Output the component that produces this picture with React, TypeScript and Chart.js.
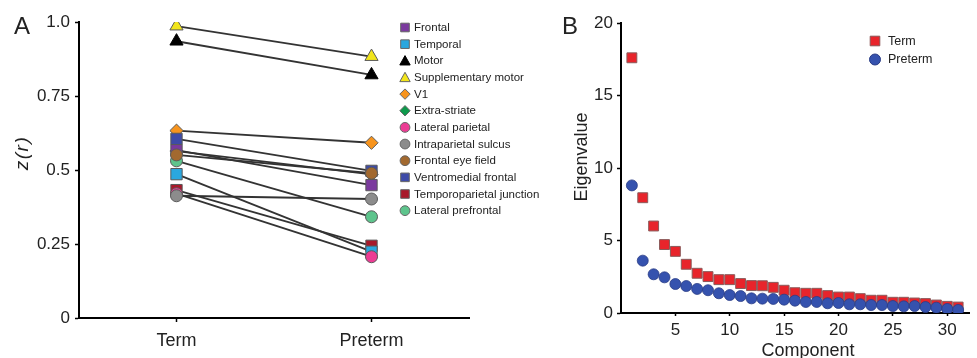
import React, { useEffect, useRef } from 'react';
import { Chart, registerables } from 'chart.js';

Chart.register(...registerables);

const FONT = "'Liberation Sans', Arial, Helvetica, sans-serif";

// ---------- Panel A data ----------
const groups = ['Term', 'Preterm'];
const regions = [
  'Frontal',
  'Temporal',
  'Motor',
  'Supplementary motor',
  'V1',
  'Extra-striate',
  'Lateral parietal',
  'Intraparietal sulcus',
  'Frontal eye field',
  'Ventromedial frontal',
  'Temporoparietal junction',
  'Lateral prefrontal',
];
const termZ = [0.567, 0.486, 0.935, 0.986, 0.633, 0.564, 0.42, 0.413, 0.551, 0.605, 0.432, 0.531];
const pretermZ = [0.449, 0.224, 0.821, 0.883, 0.592, 0.485, 0.207, 0.402, 0.489, 0.497, 0.244, 0.342];
const regionColors = [
  '#7B3A9E',
  '#2AA7DF',
  '#000000',
  '#F2E51B',
  '#F7941D',
  '#0E9A4C',
  '#EC3C94',
  '#8C8C8C',
  '#A2692F',
  '#3E4BA8',
  '#A8192A',
  '#5DC48C',
];
const regionShapes = [
  'rect',
  'rect',
  'triangle',
  'triangle',
  'rectRot',
  'rectRot',
  'circle',
  'circle',
  'circle',
  'rect',
  'rect',
  'circle',
];
const zTicks = [0, 0.25, 0.5, 0.75, 1.0];
const zTickLabels = ['0', '0.25', '0.5', '0.75', '1.0'];

// ---------- Panel B data ----------
const components = [1, 2, 3, 4, 5, 6, 7, 8, 9, 10, 11, 12, 13, 14, 15, 16, 17, 18, 19, 20, 21, 22, 23, 24, 25, 26, 27, 28, 29, 30, 31];
const termEigen = [17.6, 7.95, 6.0, 4.72, 4.25, 3.36, 2.74, 2.51, 2.3, 2.3, 2.03, 1.89, 1.88, 1.77, 1.57, 1.4, 1.36, 1.36, 1.2, 1.1, 1.1, 0.99, 0.88, 0.88, 0.74, 0.74, 0.69, 0.65, 0.55, 0.46, 0.41];
const pretermEigen = [8.8, 3.61, 2.67, 2.46, 2.0, 1.86, 1.66, 1.57, 1.36, 1.24, 1.17, 1.01, 0.99, 0.97, 0.92, 0.85, 0.76, 0.76, 0.67, 0.69, 0.6, 0.6, 0.55, 0.55, 0.48, 0.46, 0.48, 0.41, 0.37, 0.28, 0.21];
const eigenTicks = [0, 5, 10, 15, 20];
const componentTicks = [5, 10, 15, 20, 25, 30];
const eigenSeries = ['Term', 'Preterm'];
const eigenColors = ['#E8242B', '#3552AE'];

function pointRadiusFor(shape: string): number {
  if (shape === 'rect') return 8;
  if (shape === 'triangle') return 7.6;
  if (shape === 'rectRot') return 6.6;
  return 6;
}

function drawMarker(
  ctx: CanvasRenderingContext2D,
  shape: string,
  x: number,
  y: number,
  s: number,
  fill: string,
  stroke: string,
) {
  ctx.beginPath();
  if (shape === 'rect') {
    ctx.rect(x - s, y - s, 2 * s, 2 * s);
  } else if (shape === 'circle') {
    ctx.arc(x, y, s, 0, Math.PI * 2);
  } else if (shape === 'triangle') {
    const h = s * 1.8;
    ctx.moveTo(x, y - h / 2 - 0.5);
    ctx.lineTo(x + s, y + h / 2 - 0.5);
    ctx.lineTo(x - s, y + h / 2 - 0.5);
    ctx.closePath();
  } else {
    ctx.moveTo(x, y - s);
    ctx.lineTo(x + s, y);
    ctx.lineTo(x, y + s);
    ctx.lineTo(x - s, y);
    ctx.closePath();
  }
  ctx.fillStyle = fill;
  ctx.fill();
  ctx.lineWidth = 1;
  ctx.strokeStyle = stroke;
  ctx.stroke();
}

function legendSize(shape: string): number {
  if (shape === 'rect') return 4.3;
  if (shape === 'triangle') return 5.2;
  if (shape === 'rectRot') return 5.2;
  return 4.9;
}

const legendAPlugin = {
  id: 'legendA',
  afterDraw(chart: any) {
    const ctx: CanvasRenderingContext2D = chart.ctx;
    ctx.save();
    regions.forEach((name, i) => {
      const y = 27.5 + i * 16.65;
      const shape = regionShapes[i];
      drawMarker(ctx, shape, 405, y, legendSize(shape), regionColors[i], i === 2 ? '#000' : '#666');
      ctx.fillStyle = '#222';
      ctx.font = `11.5px ${FONT}`;
      ctx.textBaseline = 'middle';
      ctx.textAlign = 'left';
      ctx.fillText(name, 414, y + 0.5);
    });
    ctx.restore();
  },
};

const legendBPlugin = {
  id: 'legendB',
  afterDraw(chart: any) {
    const ctx: CanvasRenderingContext2D = chart.ctx;
    ctx.save();
    eigenSeries.forEach((name, i) => {
      const y = 41 + i * 18.5;
      drawMarker(ctx, i === 0 ? 'rect' : 'circle', 327, y, i === 0 ? 4.8 : 5.5, eigenColors[i], i === 0 ? '#8a5555' : '#2a3c85');
      ctx.fillStyle = '#222';
      ctx.font = `12.5px ${FONT}`;
      ctx.textBaseline = 'middle';
      ctx.textAlign = 'left';
      ctx.fillText(name, 340, y + 0.5);
    });
    ctx.restore();
  },
};

function PanelA() {
  const ref = useRef<HTMLCanvasElement>(null);
  useEffect(() => {
    if (!ref.current) return;
    const chart = new Chart(ref.current, {
      type: 'line',
      data: {
        labels: groups,
        datasets: regions.map((name, i) => ({
          label: name,
          data: [termZ[i], pretermZ[i]],
          borderColor: '#333333',
          borderWidth: 1.8,
          pointStyle: regionShapes[i] as any,
          pointRadius: pointRadiusFor(regionShapes[i]),
          pointHoverRadius: pointRadiusFor(regionShapes[i]),
          pointBackgroundColor: regionColors[i],
          pointBorderColor: i === 2 ? '#000' : '#5a5a5a',
          pointBorderWidth: 1,
          fill: false,
          tension: 0,
          order: [5, 4, 6, 7, 8, 9, 1, 0, 2, 3, 10, 11][i],
        })),
      },
      options: {
        responsive: false,
        animation: false,
        events: [],
        layout: { padding: { left: 0, right: 76, top: 22, bottom: 0 } },
        plugins: { legend: { display: false }, tooltip: { enabled: false } },
        scales: {
          x: {
            type: 'category',
            offset: true,
            afterFit: (s: any) => {
              s.height = 40;
            },
            grid: { drawOnChartArea: false, tickLength: 4, tickColor: '#000', tickWidth: 1.5 },
            border: { color: '#000', width: 2 },
            ticks: { color: '#222', font: { family: FONT, size: 18 }, padding: 8 },
          },
          y: {
            type: 'linear',
            min: 0,
            max: 1,
            afterFit: (s: any) => {
              s.width = 79;
            },
            afterBuildTicks: (s: any) => {
              s.ticks = zTicks.map((v) => ({ value: v }));
            },
            grid: { drawOnChartArea: false, tickLength: 4, tickColor: '#000', tickWidth: 1.5 },
            border: { color: '#000', width: 2 },
            ticks: {
              color: '#222',
              font: { family: FONT, size: 17 },
              padding: 5,
              callback: (v: any) => {
                const i = zTicks.indexOf(Number(v));
                return i >= 0 ? zTickLabels[i] : '';
              },
            },
          },
        },
      },
      plugins: [legendAPlugin],
    });
    return () => chart.destroy();
  }, []);
  return <canvas ref={ref} width={545} height={358} style={{ width: 545, height: 358, display: 'block' }} />;
}

function PanelB() {
  const ref = useRef<HTMLCanvasElement>(null);
  useEffect(() => {
    if (!ref.current) return;
    const chart = new Chart(ref.current, {
      type: 'scatter',
      data: {
        datasets: [
          {
            label: eigenSeries[0],
            data: components.map((c, i) => ({ x: c, y: termEigen[i] })),
            pointStyle: 'rect',
            pointRadius: 7,
            pointHoverRadius: 7,
            pointBackgroundColor: eigenColors[0],
            pointBorderColor: '#8a5a5a',
            pointBorderWidth: 1,
            order: 1,
          },
          {
            label: eigenSeries[1],
            data: components.map((c, i) => ({ x: c, y: pretermEigen[i] })),
            pointStyle: 'circle',
            pointRadius: 5.5,
            pointHoverRadius: 5.5,
            pointBackgroundColor: eigenColors[1],
            pointBorderColor: '#2a3c85',
            pointBorderWidth: 0.8,
            order: 0,
          },
        ],
      },
      options: {
        responsive: false,
        animation: false,
        events: [],
        layout: { padding: { left: 0, right: 4, top: 23, bottom: 0 } },
        plugins: { legend: { display: false }, tooltip: { enabled: false } },
        scales: {
          x: {
            type: 'linear',
            min: 0,
            max: 32,
            afterFit: (s: any) => {
              s.height = 45;
            },
            afterBuildTicks: (s: any) => {
              s.ticks = componentTicks.map((v) => ({ value: v }));
            },
            grid: { drawOnChartArea: false, tickLength: 3, tickColor: '#000', tickWidth: 1.5 },
            border: { color: '#000', width: 2 },
            ticks: { color: '#222', font: { family: FONT, size: 17 }, padding: 4 },
          },
          y: {
            type: 'linear',
            min: 0,
            max: 20,
            afterFit: (s: any) => {
              s.width = 73;
            },
            afterBuildTicks: (s: any) => {
              s.ticks = eigenTicks.map((v) => ({ value: v }));
            },
            grid: { drawOnChartArea: false, tickLength: 4, tickColor: '#000', tickWidth: 1.5 },
            border: { color: '#000', width: 2 },
            ticks: { color: '#222', font: { family: FONT, size: 17 }, padding: 4 },
          },
        },
      },
      plugins: [legendBPlugin],
    });
    return () => chart.destroy();
  }, []);
  return <canvas ref={ref} width={429} height={358} style={{ width: 429, height: 358, display: 'block' }} />;
}

const abs = (left: number, top: number): React.CSSProperties => ({
  position: 'absolute',
  left,
  top,
  whiteSpace: 'nowrap',
  fontFamily: FONT,
  color: '#222',
});

export default function App() {
  return (
    <div style={{ position: 'absolute', left: 0, top: 0, width: 977, height: 358, background: '#fff', overflow: 'hidden' }}>
      <div style={{ position: 'absolute', left: 0, top: 0 }}>
        <PanelA />
      </div>
      <div style={{ position: 'absolute', left: 548, top: 0 }}>
        <PanelB />
      </div>
      <div style={{ ...abs(14, 14), fontSize: 24, lineHeight: '24px' }}>A</div>
      <div style={{ ...abs(562, 14), fontSize: 24, lineHeight: '24px' }}>B</div>
      <div
        style={{
          ...abs(21, 153),
          fontSize: 19,
          lineHeight: 1,
          fontStyle: 'italic',
          letterSpacing: 1.5,
          transform: 'translate(-50%, -50%) rotate(-90deg)',
        }}
      >
        z(r)
      </div>
      <div
        style={{
          ...abs(581, 157),
          fontSize: 18,
          lineHeight: 1,
          transform: 'translate(-50%, -50%) rotate(-90deg)',
        }}
      >
        Eigenvalue
      </div>
      <div style={{ ...abs(808, 350), fontSize: 18, lineHeight: 1, transform: 'translate(-50%, -50%)' }}>Component</div>
    </div>
  );
}
